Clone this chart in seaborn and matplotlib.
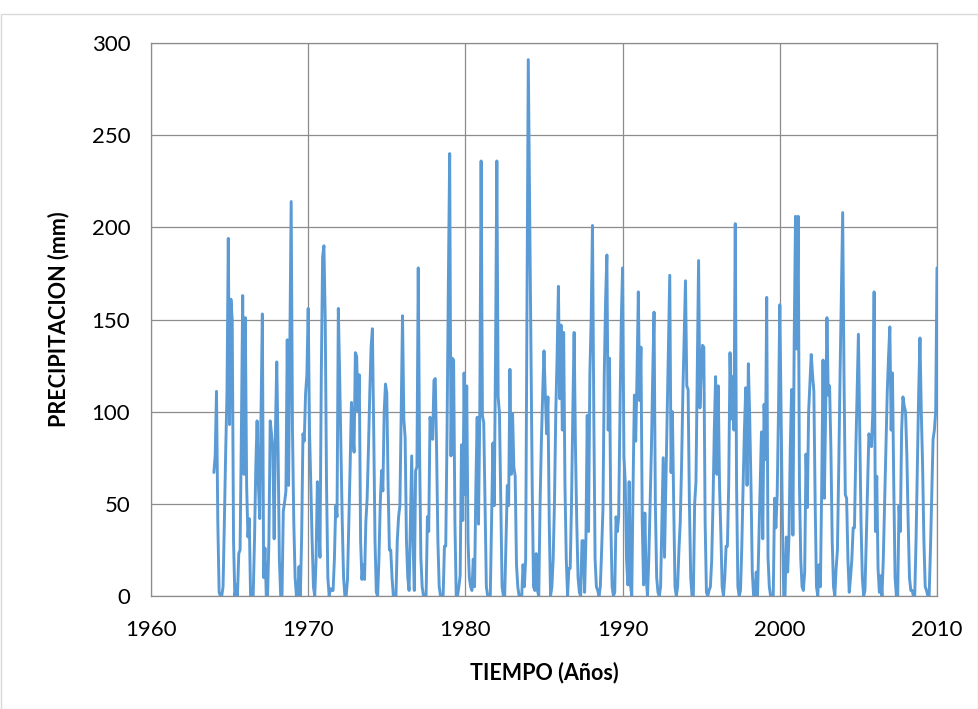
import numpy as np
import pandas as pd
import matplotlib
matplotlib.use("Agg")
import matplotlib.pyplot as plt
import seaborn as sns
from matplotlib.patches import Rectangle

# Monthly precipitation (mm), January..December
p1964 = [67, 76, 111, 40, 2, 0, 0, 5, 40, 78, 110, 194]
p1965 = [93, 161, 150, 30, 0, 6, 0, 23, 25, 90, 163, 66]
p1966 = [151, 60, 32, 42, 0, 0, 0, 30, 70, 95, 60, 42]
p1967 = [100, 153, 10, 26, 0, 0, 30, 95, 88, 80, 31, 90]
p1968 = [127, 80, 20, 0, 0, 46, 51, 57, 139, 60, 138, 214]
p1969 = [90, 40, 10, 0, 0, 16, 0, 32, 88, 84, 110, 120]
p1970 = [156, 90, 60, 30, 5, 0, 20, 62, 40, 21, 120, 184]
p1971 = [190, 150, 60, 10, 0, 4, 3, 3, 20, 49, 43, 156]
p1972 = [120, 80, 40, 10, 0, 0, 9, 40, 70, 105, 90, 78]
p1973 = [132, 130, 100, 120, 30, 9, 17, 9, 40, 53, 80, 110]
p1974 = [135, 145, 90, 30, 2, 0, 20, 50, 68, 57, 100, 115]
p1975 = [110, 60, 25, 25, 10, 0, 0, 0, 30, 43, 49, 100]
p1976 = [152, 96, 86, 30, 10, 3, 40, 76, 30, 3, 68, 70]
p1977 = [178, 80, 21, 5, 0, 0, 0, 43, 35, 97, 90, 85]
p1978 = [117, 118, 80, 30, 5, 0, 0, 0, 27, 27, 90, 170]
p1979 = [240, 76, 129, 128, 40, 0, 0, 5, 11, 82, 41, 121]
p1980 = [55, 114, 30, 10, 5, 3, 20, 5, 60, 97, 39, 100]
p1981 = [236, 98, 94, 50, 5, 0, 0, 0, 40, 83, 49, 130]
p1982 = [236, 108, 99, 50, 5, 0, 0, 30, 60, 49, 123, 66]
p1983 = [99, 70, 65, 17, 5, 0, 0, 0, 17, 5, 20, 150]
p1984 = [291, 215, 140, 60, 5, 3, 23, 3, 0, 50, 84, 110]
p1985 = [133, 109, 88, 108, 40, 0, 5, 20, 51, 100, 130, 168]
p1986 = [107, 147, 90, 143, 60, 20, 0, 15, 15, 50, 100, 143]
p1987 = [82, 40, 10, 2, 0, 30, 30, 2, 31, 98, 35, 120]
p1988 = [150, 201, 100, 20, 5, 3, 0, 5, 25, 47, 120, 160]
p1989 = [185, 90, 129, 40, 5, 0, 2, 43, 35, 43, 100, 150]
p1990 = [178, 76, 62, 20, 6, 62, 6, 0, 60, 109, 84, 120]
p1991 = [165, 106, 135, 40, 6, 45, 10, 0, 20, 50, 80, 120]
p1992 = [154, 50, 10, 2, 0, 5, 40, 75, 21, 60, 100, 140]
p1993 = [174, 67, 100, 50, 5, 0, 5, 25, 40, 70, 110, 140]
p1994 = [171, 114, 112, 50, 10, 0, 0, 50, 62, 120, 182, 102]
p1995 = [120, 136, 135, 40, 2, 0, 3, 5, 19, 50, 90, 119]
p1996 = [66, 114, 60, 34, 5, 0, 10, 27, 27, 60, 132, 96]
p1997 = [119, 90, 202, 60, 5, 0, 3, 27, 60, 90, 113, 60]
p1998 = [126, 98, 60, 13, 0, 0, 13, 0, 30, 60, 89, 31]
p1999 = [104, 74, 162, 21, 5, 0, 0, 0, 53, 37, 55, 100]
p2000 = [158, 100, 40, 0, 0, 32, 13, 32, 80, 112, 33, 140]
p2001 = [206, 134, 206, 60, 20, 5, 3, 13, 77, 48, 100, 115]
p2002 = [131, 120, 111, 50, 5, 0, 17, 5, 60, 128, 53, 100]
p2003 = [151, 109, 114, 80, 30, 5, 0, 15, 25, 70, 120, 165]
p2004 = [208, 120, 55, 53, 20, 2, 10, 20, 37, 37, 78, 110]
p2005 = [142, 90, 40, 10, 0, 3, 30, 60, 88, 85, 81, 100]
p2006 = [165, 35, 65, 15, 2, 11, 0, 20, 50, 80, 110, 130]
p2007 = [146, 90, 121, 60, 10, 0, 0, 49, 35, 90, 108, 103]
p2008 = [100, 76, 40, 10, 3, 3, 0, 0, 30, 70, 110, 140]
p2009 = [100, 71, 30, 5, 3, 0, 0, 25, 55, 85, 90, 100]
p2010 = [178]

start_year = 1964
x_ticks = [1960, 1970, 1980, 1990, 2000, 2010]
y_ticks = [0, 50, 100, 150, 200, 250, 300]
x_label = "TIEMPO (Años)"
y_label = "PRECIPITACION (mm)"

yearly = [p1964, p1965, p1966, p1967, p1968, p1969, p1970, p1971, p1972, p1973,
          p1974, p1975, p1976, p1977, p1978, p1979, p1980, p1981, p1982, p1983,
          p1984, p1985, p1986, p1987, p1988, p1989, p1990, p1991, p1992, p1993,
          p1994, p1995, p1996, p1997, p1998, p1999, p2000, p2001, p2002, p2003,
          p2004, p2005, p2006, p2007, p2008, p2009, p2010]
values = [v for yr in yearly for v in yr]
df = pd.DataFrame({"anio": start_year + np.arange(len(values)) / 12.0,
                   "precip": values})

sns.set_theme(style="white")
plt.rcParams["font.family"] = ["Lato", "DejaVu Sans"]

fig = plt.figure(figsize=(9.79, 7.09), dpi=100)
ax = fig.add_axes([151 / 979, 1 - 596 / 709, (937 - 151) / 979, (596 - 43) / 709])

sns.lineplot(data=df, x="anio", y="precip", ax=ax, color="#5B9BD5",
             linewidth=2.1, zorder=3)

grid_c = "#8C8C8C"
ax.set_xlim(x_ticks[0], x_ticks[-1])
ax.set_ylim(y_ticks[0], y_ticks[-1])
ax.set_xticks(x_ticks)
ax.set_yticks(y_ticks)
ax.grid(True, color=grid_c, linewidth=0.9)
ax.set_axisbelow(True)
for s in ax.spines.values():
    s.set_color(grid_c)
    s.set_linewidth(0.9)
ax.tick_params(axis="both", direction="out", length=5, width=0.9, color=grid_c,
               labelsize=16, labelcolor="black")
ax.tick_params(axis="y", pad=10)
ax.tick_params(axis="x", pad=12)
ax.set_xlabel(x_label, fontsize=15.5, fontweight="bold", color="black", labelpad=16)
ax.set_ylabel(y_label, fontsize=15.5, fontweight="bold", color="black", labelpad=16)

fig.patches.append(Rectangle((0.5 / 979, 0.5 / 709), 1 - 1.5 / 979, 1 - 14 / 709,
                             transform=fig.transFigure, fill=False,
                             edgecolor="#D9D9D9", linewidth=1.0))

fig.savefig("out.png", dpi=100, facecolor="white")
